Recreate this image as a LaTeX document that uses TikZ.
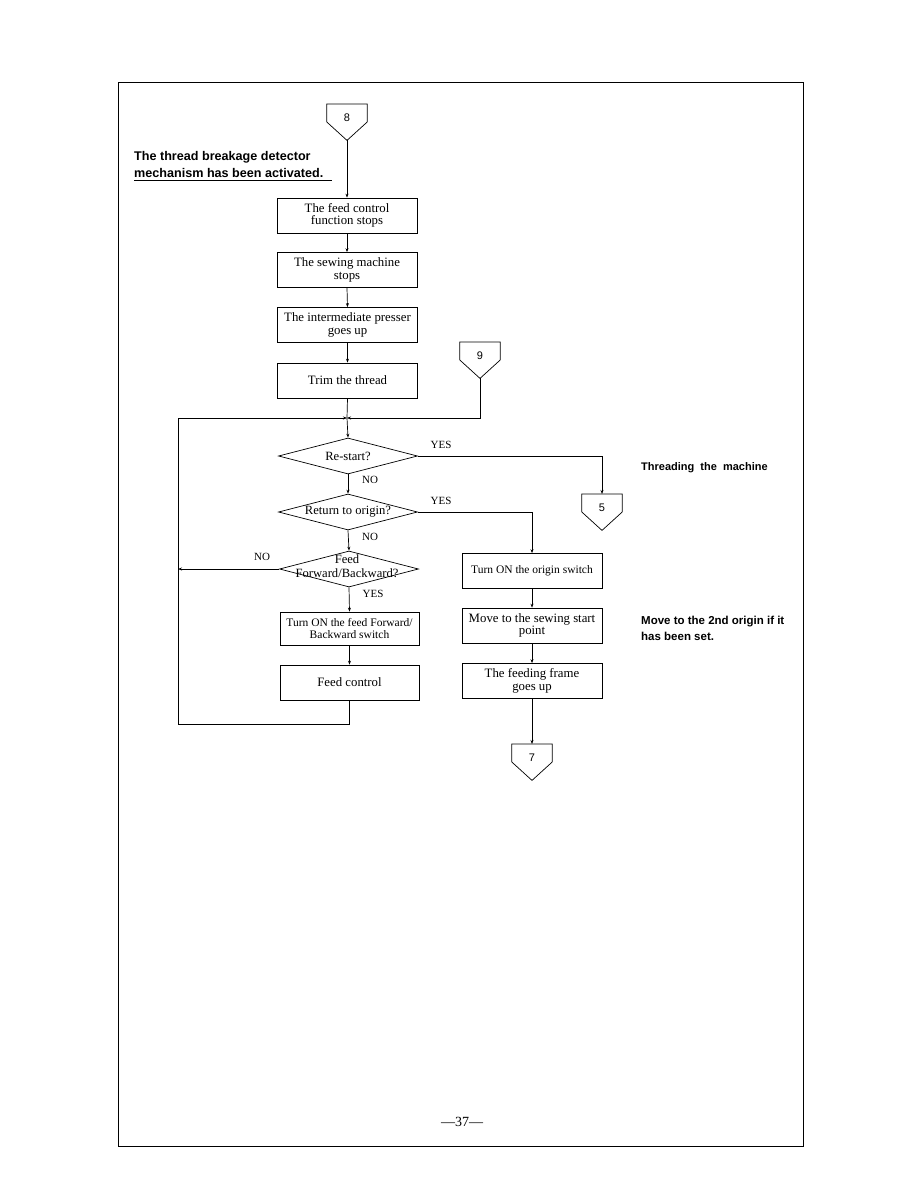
\documentclass[tikz,border=0pt]{standalone}
\usepackage{fontspec}
\setmainfont{Liberation Serif}
\newfontfamily\hsans{Liberation Sans}
\usetikzlibrary{shapes.geometric,arrows.meta,calc}
\tikzset{
  arr/.style={-{Stealth[length=4pt,width=3pt]}},
  flow/.style={line width=0.7pt},
  box/.style={draw,line width=0.7pt,minimum width=140pt,minimum height=35pt,inner sep=1pt,align=center,font=\fontsize{12.8}{12.5}\selectfont},
  sbox/.style={box,font=\fontsize{11.5}{12.5}\selectfont},
  dia/.style={draw,line width=0.7pt,diamond,minimum width=139pt,minimum height=36pt,inner sep=0pt},
  diatext/.style={align=center,inner sep=0pt,font=\fontsize{12.6}{13.5}\selectfont},
  lbl/.style={inner sep=0pt,font=\fontsize{11}{12}\selectfont},
  note/.style={inner sep=0pt,anchor=west,align=left,font=\hsans\bfseries\fontsize{11}{16}\selectfont},
  offp/.style={inner sep=0pt,minimum width=40pt,minimum height=36pt,anchor=north},
  offt/.style={inner sep=0pt,font=\hsans\fontsize{11}{12}\selectfont}
}
\newcommand\offpage[3]{%
  \node[offp] (#1) at (#2) {};
  \draw[line width=0.7pt] (#1.north west) -- ($(#1.north west)+(0,18)$) -- (#1.south) -- ($(#1.north east)+(0,18)$) -- (#1.north east) -- cycle;
  \node[offt] (#1t) at ($(#1.north)+(0,14)$) {#3};}
\begin{document}
\begin{tikzpicture}[x=1pt,y=-1pt]
\useasboundingbox (0,0) rectangle (918,1188);
% frame
\draw[line width=0.9pt] (118,82) rectangle (803,1146);
% connectors
\offpage{c8}{347,104}{8}
\offpage{c9}{480,342}{9}
\offpage{c5}{602,494}{5}
\offpage{c7}{532,744}{7}
% left column
\node[box] (b1) at (347,215.5) {The feed control\\function stops};
\node[box] (b2) at (347,270) {The sewing machine\\stops};
\node[box] (b3) at (347.5,325) {The intermediate presser\\goes up};
\node[box] (b4) at (347.5,380.5) {Trim the thread};
\node[dia] (d1) at (348,456) {};
\node[diatext] (d1t) at (d1) {Re-start?};
\node[dia] (d2) at (348,512) {};
\node[diatext] (d2t) at (d2) {Return to origin?};
\node[dia] (d3) at (349,569) {};
\node[diatext] (d3t) at (347,566) {Feed\\Forward/Backward?};
\node[sbox,minimum width=139pt,minimum height=33pt] (b5) at (349.5,628.5) {Turn ON the feed Forward/\\Backward switch};
\node[box,minimum width=139pt] (b6) at (349.5,682.5) {Feed control};
% right column
\node[sbox] (b7) at (532,571) {Turn ON the origin switch};
\node[box] (b8) at (532,625.5) {Move to the sewing start\\point};
\node[box] (b9) at (532,681) {The feeding frame\\goes up};
% coordinates
\coordinate (j) at (347,418);
\coordinate (lb) at (178,724);
\coordinate (lt) at (178,418);
\coordinate (lm) at (178,569);
% flows
\draw[flow,arr] (c8.south) -- (b1.north);
\draw[flow,arr] (b1.south) -- (b2.north);
\draw[flow,arr] (b2.south) -- (b3.north);
\draw[flow,arr] (b3.south) -- (b4.north);
\draw[flow] (b4.south) -- (j);
\draw[flow,arr] (j) -- (d1.north);
\draw[flow,arr] (c9.south) |- (j);
\draw[flow,arr] (b6.south) |- (lb) -- (lt) -- (j);
\draw[flow,arr] (d1.east) -| (c5.north);
\draw[flow,arr] (d1.south) -- (d2.north);
\draw[flow,arr] (d2.south) -- (d3.north);
\draw[flow,arr] (d2.east) -| (b7.north);
\draw[flow,arr] (d3.west) -- (lm);
\draw[flow,arr] (d3.south) -- (b5.north);
\draw[flow,arr] (b5.south) -- (b6.north);
\draw[flow,arr] (b7.south) -- (b8.north);
\draw[flow,arr] (b8.south) -- (b9.north);
\draw[flow,arr] (b9.south) -- (c7.north);
% labels
\node[lbl] (y1) at (441,445) {YES};
\node[lbl] (n1) at (370,480) {NO};
\node[lbl] (y2) at (441,501) {YES};
\node[lbl] (n2) at (370,537) {NO};
\node[lbl] (n3) at (262,557) {NO};
\node[lbl] (y3) at (373,594) {YES};
% notes
\node[note,font=\hsans\bfseries\fontsize{12.6}{17}\selectfont] (t1) at (134,164) {The thread breakage detector\\mechanism has been activated.};
\draw[line width=0.8pt] (134,180) -- (332,180);
\node[note] (t2) at (641,468) {Threading\ \ the\ \ machine};
\node[note,font=\hsans\bfseries\fontsize{11.5}{16}\selectfont] (t3) at (641,628) {Move\ to\ the\ 2nd\ origin\ if\ it\\has\ been\ set.};
\node[inner sep=0pt,font=\fontsize{14}{15}\selectfont] (pg) at (462,1122) {—37—};
\end{tikzpicture}
\end{document}
